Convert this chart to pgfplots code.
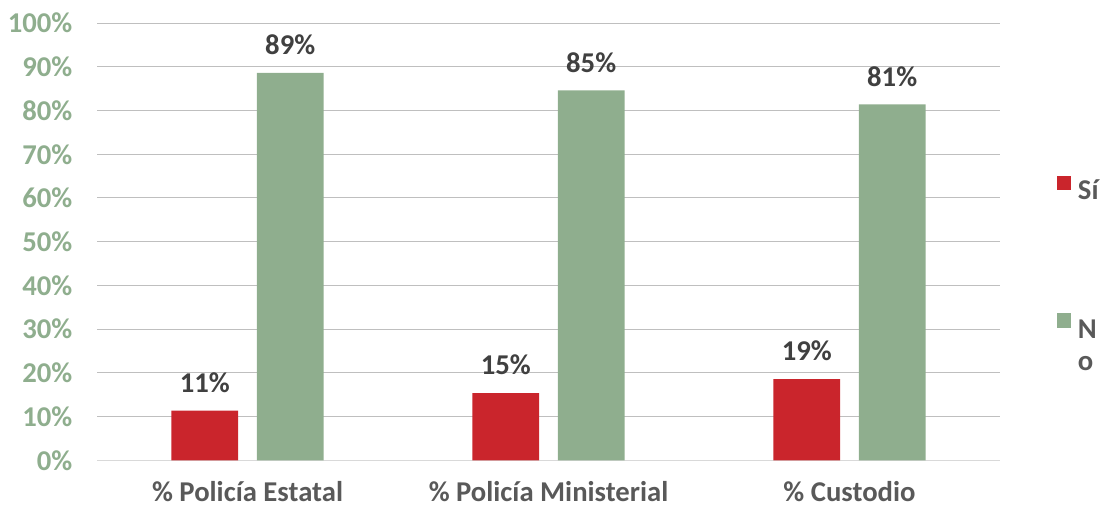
\documentclass[border=0pt]{standalone}
\usepackage{pgfplots}
\pgfplotsset{compat=1.18}
\usepackage{fontspec}
\setmainfont{Carlito}
\definecolor{rojo}{RGB}{202,37,44}
\definecolor{verde}{RGB}{143,174,142}
\definecolor{tick}{RGB}{143,174,142}
\definecolor{dark}{RGB}{64,64,64}
\definecolor{lab}{RGB}{89,89,89}
\definecolor{grid}{RGB}{217,217,217}
\begin{document}
\begin{tikzpicture}
\useasboundingbox (-72.75pt,-34.5pt) rectangle (753.5pt,345.25pt);
\begin{axis}[
  scale only axis,
  width=677pt, height=328pt,
  ybar=14pt, bar width=50pt,
  xmin=-0.5, xmax=2.5, ymin=0, ymax=100,
  xtick={0,1,2},
  xticklabels={\% Policía Estatal,\% Policía Ministerial,\% Custodio},
  ytick={0,10,...,100},
  yticklabel={\pgfmathprintnumber{\tick}\%},
  /pgf/number format/assume math mode=true,
  ymajorgrids, xmajorgrids=false, grid style={grid, line width=0.75pt},
  axis lines*=left,
  x axis line style={grid, line width=0.75pt, -},
  y axis line style={draw=none},
  major tick length=0pt,
  tick style={draw=none},
  tick label style={font=\fontsize{21.5}{25}\selectfont\bfseries},
  yticklabel style={text=tick, xshift=-15pt},
  xticklabel style={text=lab, yshift=-12pt},
  nodes near coords={\pgfmathprintnumber[fixed,precision=0]{\pgfplotspointmeta}\%},
  every node near coord/.append style={font=\fontsize{21.5}{25}\selectfont\bfseries, text=dark, yshift=10pt},
  legend style={at={(axis description cs:1.058,0.670)}, anchor=north west, draw=none, fill=none,
    font=\fontsize{21.5}{25}\selectfont\bfseries, text=lab, row sep=78pt},
  legend cell align=left,
  legend image code/.code={\fill[#1] (0pt,0pt) rectangle (11pt,11pt); \path (14pt,15pt);},
]
\addplot[fill=rojo, draw=none] coordinates {(0,11.4) (1,15.4) (2,18.6)};
\addplot[fill=verde, draw=none] coordinates {(0,88.6) (1,84.6) (2,81.4)};
\legend{Sí,{\begin{tabular}[t]{@{}l@{}}N\\[-1pt]o\end{tabular}}}
\end{axis}
\end{tikzpicture}
\end{document}
